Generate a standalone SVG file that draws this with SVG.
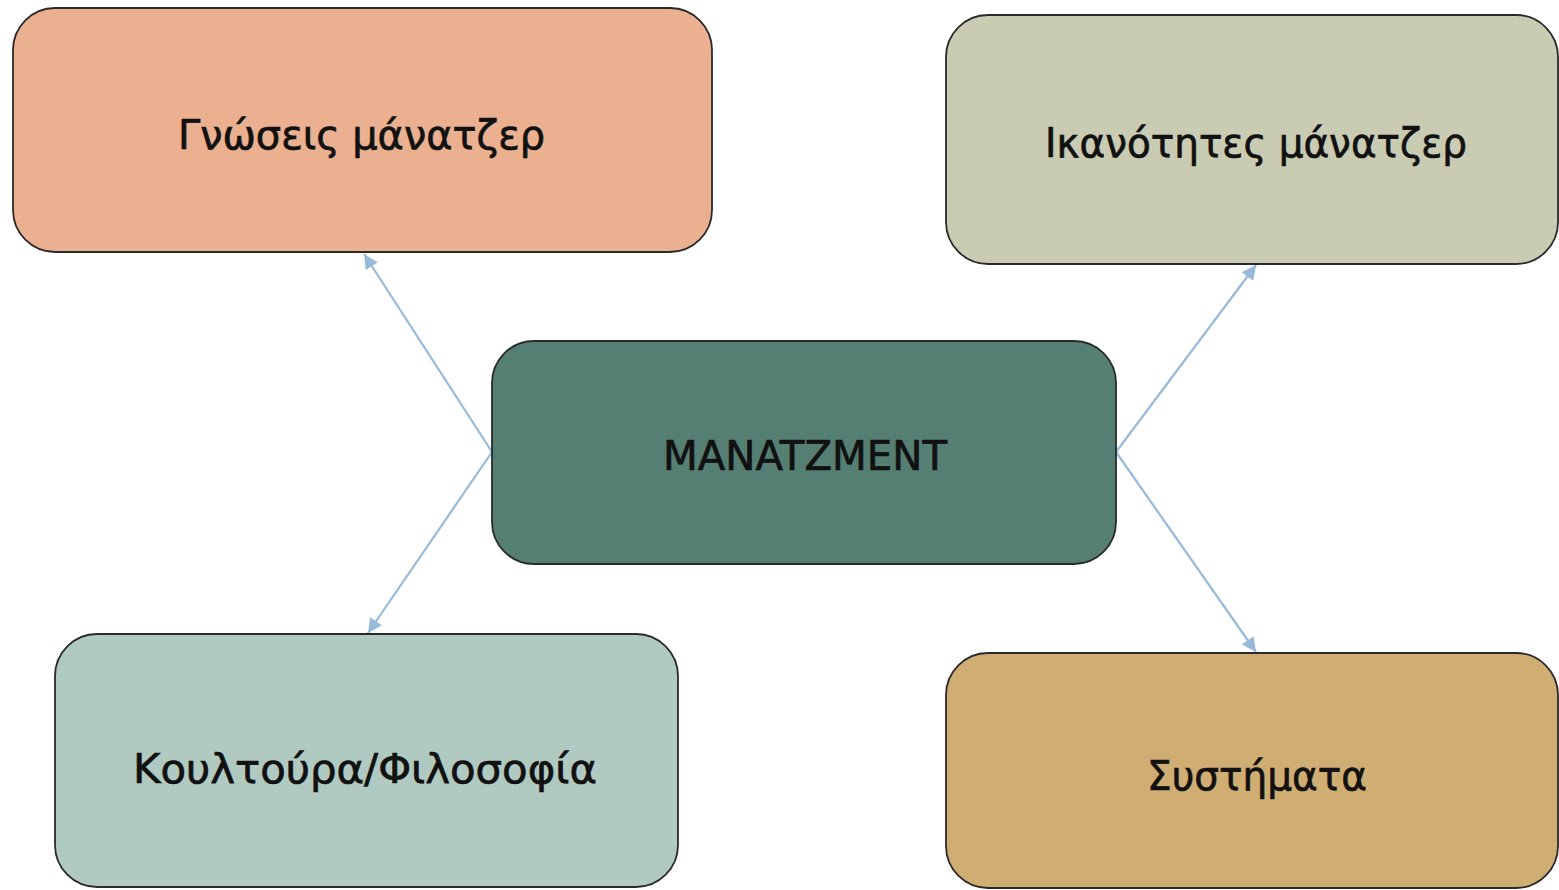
<svg xmlns="http://www.w3.org/2000/svg" width="1559" height="890" viewBox="0 0 1559 890">
<style>
.box{stroke:#2a2a2a;stroke-width:1.8}
.lbl{font-family:"DejaVu Sans","Noto Sans",sans-serif;font-size:40px;fill:#111;stroke:#111;stroke-width:0.7;text-anchor:middle}
.con{stroke:#97badb;stroke-width:2.2;fill:none}
</style>
<defs>
<marker id="ah" viewBox="0 0 10 10" refX="10" refY="5" markerWidth="7" markerHeight="6.5" markerUnits="strokeWidth" orient="auto">
<path d="M0,0 L10,5 L0,10 z" fill="#97badb"/>
</marker>
</defs>
<rect width="1559" height="890" fill="#ffffff"/>
<g id="connectors">
<line class="con" x1="492" y1="452" x2="364" y2="254" marker-end="url(#ah)"/>
<line class="con" x1="492" y1="452" x2="368" y2="633" marker-end="url(#ah)"/>
<line class="con" x1="1116" y1="452" x2="1256" y2="265" marker-end="url(#ah)"/>
<line class="con" x1="1116" y1="452" x2="1256" y2="652" marker-end="url(#ah)"/>
</g>
<g id="node-gnoseis">
<rect class="box" x="13" y="8" width="699" height="244" rx="42" fill="#ebb08f"/>
<text class="lbl" x="361.5" y="149" textLength="367" lengthAdjust="spacingAndGlyphs">Γνώσεις μάνατζερ</text>
</g>
<g id="node-ikanotites">
<rect class="box" x="946" y="15" width="612" height="249" rx="42" fill="#c9ccb3"/>
<text class="lbl" x="1256" y="157" textLength="422" lengthAdjust="spacingAndGlyphs">Ικανότητες μάνατζερ</text>
</g>
<g id="node-management">
<rect class="box" x="492" y="341" width="624" height="223" rx="42" fill="#567f74"/>
<text class="lbl" x="805" y="470" textLength="284" lengthAdjust="spacingAndGlyphs">MANATZMENT</text>
</g>
<g id="node-koultoura">
<rect class="box" x="55" y="634" width="623" height="253" rx="42" fill="#b0cac2"/>
<text class="lbl" x="365" y="783" textLength="464" lengthAdjust="spacingAndGlyphs">Κουλτούρα/Φιλοσοφία</text>
</g>
<g id="node-systimata">
<rect class="box" x="946" y="653" width="612" height="235" rx="42" fill="#d0ad72"/>
<text class="lbl" x="1257" y="790" textLength="220" lengthAdjust="spacingAndGlyphs">Συστήματα</text>
</g>
</svg>
